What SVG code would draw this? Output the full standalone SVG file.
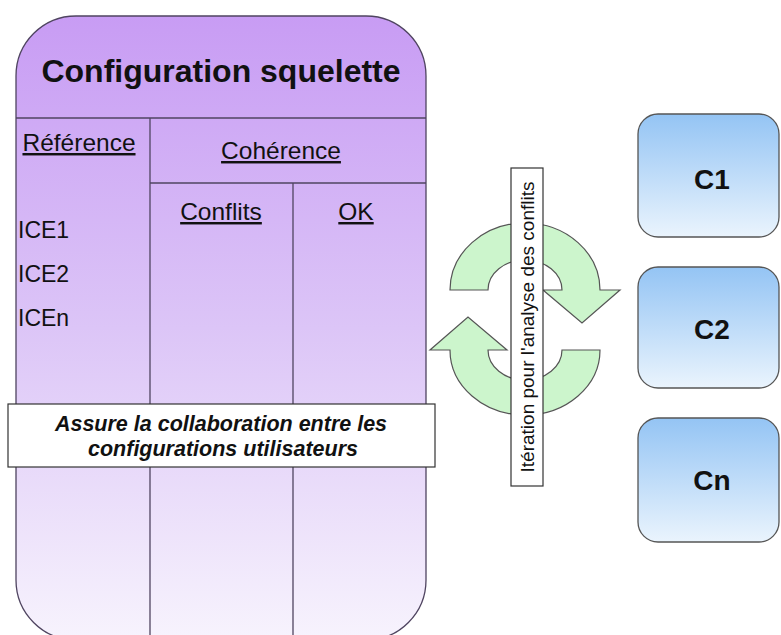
<svg xmlns="http://www.w3.org/2000/svg" width="781" height="635" viewBox="0 0 781 635">
<defs>
<linearGradient id="gPurple" x1="0" y1="0" x2="0" y2="1">
<stop offset="0" stop-color="#c89cf4"/>
<stop offset="0.5" stop-color="#dcc5f7"/>
<stop offset="1" stop-color="#f7f3fd"/>
</linearGradient>
<linearGradient id="gBlue" x1="0" y1="0" x2="0" y2="1">
<stop offset="0" stop-color="#94c4f4"/>
<stop offset="1" stop-color="#eaf4fd"/>
</linearGradient>
<style>
text{font-family:"Liberation Sans",Arial,sans-serif;fill:#111}
.hdr{font-size:24.5px;text-decoration:underline;text-anchor:middle}
.ice{font-size:23px}
.line{stroke:#4f4460;stroke-width:1.3;fill:none}
.cbox{fill:url(#gBlue);stroke:#555;stroke-width:1.3}
.clab{font-size:28px;font-weight:bold;text-anchor:middle}
.arrow{fill:#ccf5cc;stroke:#555;stroke-width:1.2}
.note{fill:#fff;stroke:#333;stroke-width:1.2}
.it{font-size:21.5px;font-weight:bold;font-style:italic;text-anchor:middle}
</style>
</defs>
<rect width="781" height="635" fill="#fff"/>
<g id="squelette">
<path d="M76,16 H366 A60,60 0 0 1 426,76 V580 A60,60 0 0 1 366,640 H76 A60,60 0 0 1 16,580 V76 A60,60 0 0 1 76,16 Z" fill="url(#gPurple)" stroke="#4f4460" stroke-width="1.3"/>
<line class="line" x1="16" y1="118" x2="426" y2="118"/>
<line class="line" x1="150" y1="118" x2="150" y2="640"/>
<line class="line" x1="150" y1="183" x2="426" y2="183"/>
<line class="line" x1="293" y1="183" x2="293" y2="640"/>
<text x="221" y="82" font-size="32" font-weight="bold" text-anchor="middle">Configuration squelette</text>
<text class="hdr" x="79" y="151">Référence</text>
<text class="hdr" x="281" y="159">Cohérence</text>
<text class="hdr" x="221" y="220">Conflits</text>
<text class="hdr" x="356" y="220">OK</text>
<text class="ice" x="18" y="238">ICE1</text>
<text class="ice" x="18" y="282">ICE2</text>
<text class="ice" x="18" y="326">ICEn</text>
</g>
<g id="collaboration">
<rect class="note" x="8" y="404" width="427" height="63"/>
<text class="it" x="221" y="431">Assure la collaboration entre les</text>
<text class="it" x="223" y="456">configurations utilisateurs</text>
</g>
<g id="connectors">
<path class="arrow" d="M450,290 A75,67 0 0 1 600,290 L620,290 L582,323 L543,290 L562,290 A37,30 0 0 0 488,290 Z"/>
<path class="arrow" d="M600,350 A75,65 0 0 1 450,350 L430,350 L468,317 L507,350 L488,350 A37,30 0 0 0 562,350 Z"/>
</g>
<g id="iteration">
<rect class="note" x="511" y="168" width="32" height="318"/>
<text transform="translate(534,327) rotate(-90)" font-size="19" text-anchor="middle">Itération pour l'analyse des conflits</text>
</g>
<g id="C1">
<rect class="cbox" x="638" y="114" width="141" height="123" rx="20"/>
<text class="clab" x="712" y="189">C1</text>
</g>
<g id="C2">
<rect class="cbox" x="638" y="267" width="141" height="121" rx="20"/>
<text class="clab" x="712" y="339">C2</text>
</g>
<g id="Cn">
<rect class="cbox" x="638" y="418" width="141" height="124" rx="20"/>
<text class="clab" x="712" y="490">Cn</text>
</g>
</svg>
